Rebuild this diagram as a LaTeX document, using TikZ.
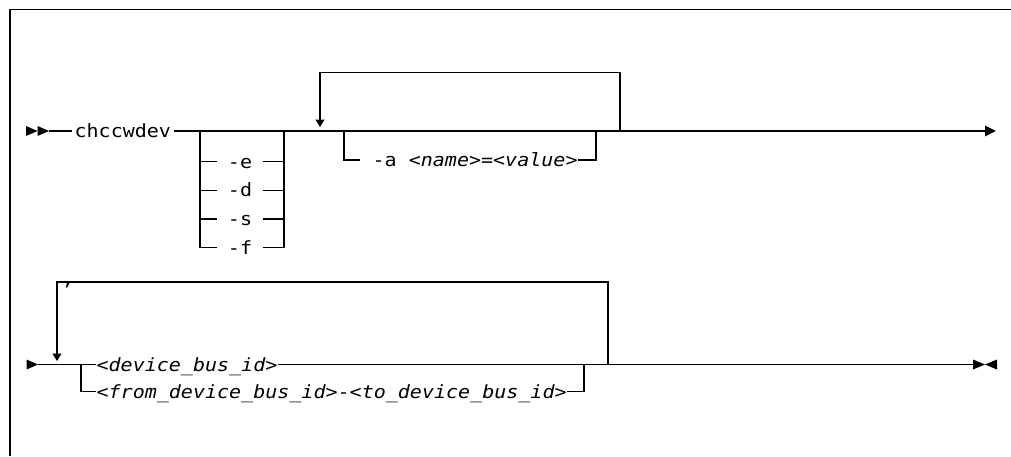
\documentclass[tikz,border=0pt]{standalone}
\usepackage{fontspec}
\newfontfamily\synfont[FakeStretch=1.1,ItalicFont={DejaVu Sans Mono Oblique}]{DejaVu Sans Mono}
\usetikzlibrary{arrows.meta}
\newcommand{\synvar}[1]{\textit{<#1>}}
\begin{document}
\begin{tikzpicture}[x=1pt,y=-1pt,line width=1.2pt,
  txt/.style={font={\synfont\fontsize{18.2}{22}\selectfont},inner xsep=0pt,inner ysep=0pt,text height=17pt,text depth=4pt,anchor=west},
  opt/.style={txt,anchor=center,inner xsep=10pt},
  tip/.style={-{Triangle[length=7.5pt,width=9pt]}}]
\useasboundingbox (0,0) rectangle (1011,456);
\draw[line width=1.3pt] (10,456)--(10,9.5)--(1011,9.5);
% first line
\fill (26,126)--(37.5,131)--(26,136)--cycle;\fill (37.5,126)--(49,131)--(37.5,136)--cycle;
\coordinate (s1) at (49,131);\coordinate (b1) at (200,131);\coordinate (b2) at (284,131);
\coordinate (r1) at (320,131);\coordinate (r1t) at (320,127);\coordinate (r2) at (620,131);
\coordinate (a1) at (344,131);\coordinate (a2) at (596,131);\coordinate (e1) at (996,131);
\node[txt,inner xsep=2pt] (cmd) at (72,131) {chccwdev};
\node[opt] (oe) at (240,161.7) {-e};\node[opt] (od) at (240,190.4) {-d};
\node[opt] (os) at (240,219) {-s};\node[opt] (of) at (240,247.7) {-f};
\draw (s1)--(cmd.west);
\draw[-{Triangle[length=11pt,width=10.5pt]}] (cmd.east)--(b1)--(b2)--(r1)--(a1)--(a2)--(r2)--(e1);
\foreach \o in {oe,od,os} {\draw (\o.west -| b1)--(\o.west);\draw (\o.east)--(\o.east -| b2);}
\draw (b1) |- (of.west);\draw (b2) |- (of.east);
\draw[tip] (r2)--++(0,-58.3) -| (r1t);
\node[txt] (oa) at (360,160) {\ -a \synvar{name}=\synvar{value}};
\draw (a1) |- (oa.west);\draw (oa.east) -| (a2);
% second line
\fill (26.5,359.5)--(38,364.5)--(26.5,369.5)--cycle;
\coordinate (s2) at (38,364.5);\coordinate (q1) at (57,364.5);\coordinate (q1t) at (57,361);
\coordinate (c1) at (81,364.5);\coordinate (c2) at (584,364.5);\coordinate (q2) at (608,364.5);
\coordinate (e2) at (973,364.5);
\node[txt] (dev) at (96,364.5) {\synvar{device\_bus\_id}};
\node[txt] (rng) at (96,391.7) {\synvar{from\_device\_bus\_id}-\synvar{to\_device\_bus\_id}};
\draw (s2)--(q1)--(c1)--(dev.west);\draw (dev.east)--(c2)--(q2)--(e2);
\draw (c1) |- (rng.west);\draw (rng.east) -| (c2);
\draw[tip] (q2)--++(0,-82.5) -| (q1t);
\node[txt,anchor=base] (sep) at (68,285) {,};
\fill (973,359.5)--(985,364.5)--(973,369.5)--cycle;\fill (997,359.5)--(985,364.5)--(997,369.5)--cycle;
\end{tikzpicture}
\end{document}
